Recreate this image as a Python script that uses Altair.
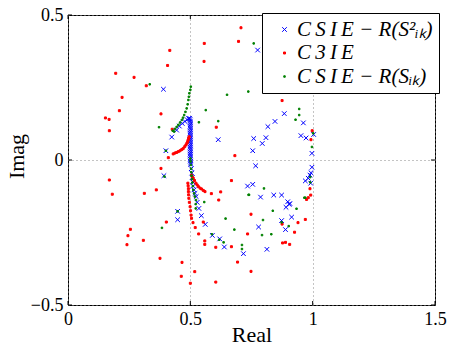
import altair as alt
import pandas as pd

# ---- series values ----
blue_re = [0.390, 0.775, 0.614, 0.759, 0.755, 0.424, 0.400, 0.881, 0.884, 0.962,
           0.846, 0.817, 0.809, 0.794, 0.952, 0.973, 1.004, 0.997, 0.392, 0.448,
           0.448, 0.767, 0.734, 0.755, 0.524, 0.528, 0.535, 0.545, 0.561, 0.590,
           0.620, 0.639, 0.717, 0.779, 0.787, 0.841, 0.873, 0.898, 0.904, 0.891,
           0.914, 0.873, 0.889, 0.813, 0.997, 0.993, 0.989, 0.982, 0.970, 0.992,
           0.907,
           0.444, 0.455, 0.467, 0.478, 0.487, 0.493, 0.497,
           0.499, 0.500, 0.501, 0.500, 0.499, 0.500, 0.501, 0.500, 0.499, 0.500,
           0.501, 0.500, 0.499, 0.500, 0.501, 0.500, 0.499, 0.500, 0.501, 0.500,
           0.499, 0.500, 0.501, 0.500, 0.500, 0.501,
           0.502, 0.504, 0.506, 0.508, 0.510, 0.512, 0.515, 0.519]
blue_im = [0.244, 0.379, 0.070, 0.074, 0.032, 0.079, 0.032, 0.238, 0.160, 0.128,
           0.133, 0.115, 0.077, 0.057, 0.084, 0.076, 0.088, 0.023, -0.054, -0.177,
           -0.206, -0.020, -0.090, -0.084, -0.126, -0.146, -0.167, -0.192, -0.222, -0.260,
           -0.272, -0.300, -0.323, -0.231, -0.128, -0.121, -0.121, -0.144, -0.153, -0.163,
           -0.197, -0.209, -0.240, -0.308, -0.025, -0.044, -0.052, -0.063, -0.072, -0.080,
           -0.150,
           0.103, 0.117, 0.126, 0.133, 0.139, 0.143, 0.144,
           0.140, 0.134, 0.128, 0.122, 0.116, 0.110, 0.104, 0.098, 0.092, 0.086,
           0.080, 0.074, 0.068, 0.062, 0.056, 0.050, 0.044, 0.038, 0.032, 0.026,
           0.020, 0.014, 0.008, 0.002, -0.004, -0.010,
           -0.015, -0.030, -0.045, -0.060, -0.075, -0.090, -0.103, -0.115]

red_re = [0.707, 0.697, 0.557, 0.556, 0.416, 0.407, 0.195, 0.270, 0.320, 0.221,
          0.210, 0.153, 0.168, 0.169, 0.380, 0.426, 0.606, 0.682, 0.410,
          0.893, 0.921, 0.875, 0.998, 0.993,
          0.380, 0.169, 0.181, 0.312, 0.361, 0.668, 0.624, 0.586, 0.616, 0.402,
          0.255, 0.245, 0.241, 0.308, 0.511, 0.520, 0.534, 0.553, 0.559, 0.559,
          0.604, 0.668, 0.734, 0.748, 0.693, 0.748, 0.376, 0.466, 0.463, 0.518,
          0.500, 0.604,
          0.989, 0.992, 0.982, 0.975, 0.940, 0.970, 0.875, 0.926, 0.877, 0.889, 0.906,
          0.430, 0.437, 0.444, 0.451, 0.458, 0.465, 0.471, 0.477, 0.482, 0.486,
          0.489, 0.491, 0.493, 0.495,
          0.505, 0.508, 0.512, 0.517, 0.523, 0.528, 0.533, 0.540, 0.546, 0.553, 0.560,
          0.490, 0.491, 0.492, 0.492, 0.493, 0.494, 0.496, 0.499, 0.501, 0.503, 0.505]
red_im = [0.456, 0.409, 0.402, 0.340, 0.378, 0.326, 0.299, 0.285, 0.256, 0.216,
          0.170, 0.145, 0.140, 0.101, 0.159, 0.106, 0.113, 0.015, 0.008,
          0.246, 0.249, 0.205, 0.101, 0.070,
          -0.029, -0.069, -0.118, -0.115, -0.103, -0.071, -0.110, -0.116, -0.138, -0.214,
          -0.239, -0.261, -0.292, -0.277, -0.216, -0.233, -0.255, -0.214, -0.279, -0.291,
          -0.301, -0.299, -0.255, -0.187, -0.352, -0.384, -0.339, -0.353, -0.401, -0.385,
          -0.425, -0.421,
          -0.099, -0.121, -0.130, -0.136, -0.216, -0.205, -0.221, -0.249, -0.286, -0.284, -0.291,
          0.021, 0.024, 0.026, 0.029, 0.032, 0.036, 0.040, 0.046, 0.052, 0.058,
          0.063, 0.069, 0.075, 0.080,
          -0.052, -0.058, -0.063, -0.071, -0.080, -0.086, -0.092, -0.097, -0.100, -0.105, -0.109,
          -0.080, -0.089, -0.099, -0.109, -0.120, -0.132, -0.146, -0.161, -0.175, -0.190, -0.201]

green_re = [0.334, 0.759, 0.737, 0.650, 0.563, 0.614, 0.535, 0.372, 0.434,
            0.945, 0.945, 0.930, 0.997, 1.002,
            0.394, 0.384, 0.557, 0.644, 0.680, 0.636, 0.711, 0.711, 0.740, 0.588,
            0.801, 0.738, 0.837, 0.797, 0.793, 0.831, 0.902, 0.934, 0.966, 0.970,
            0.873, 0.990, 0.990, 0.400, 0.618, 0.448,
            0.502, 0.500, 0.496, 0.494, 0.492, 0.489, 0.485, 0.480, 0.475, 0.470,
            0.465, 0.458, 0.451, 0.444, 0.437, 0.428,
            0.500, 0.501, 0.502, 0.503, 0.504, 0.505, 0.507, 0.508, 0.510, 0.512,
            0.515, 0.518, 0.523, 0.522, 0.522]
green_im = [0.261, 0.402, 0.236, 0.225, 0.172, 0.134, 0.130, 0.113, 0.098,
            0.176, 0.155, 0.139, 0.045, 0.092,
            -0.057, -0.234, -0.145, -0.202, -0.240, -0.284, -0.293, -0.307, -0.120, -0.256,
            -0.098, -0.120, -0.175, -0.207, -0.259, -0.256, -0.228, -0.168, -0.130, -0.130,
            -0.215, -0.059, -0.077, 0.032, -0.275, -0.177,
            0.253, 0.242, 0.230, 0.218, 0.207, 0.192, 0.178, 0.166, 0.155, 0.146,
            0.138, 0.129, 0.121, 0.114, 0.107, 0.101,
            0.005, -0.005, -0.017, -0.030, -0.042, -0.054, -0.066, -0.078, -0.090, -0.103,
            -0.115, -0.126, -0.138, -0.152, -0.167]

series_names = ["C\u2009S\u2009I\u2009E \u2212 R(S\u00b2\u1d62\u2096)",
                "C\u20093\u2009I\u2009E",
                "C\u2009S\u2009I\u2009E \u2212 R(S\u1d62\u2096)"]
series_colors = ["#0000ff", "#ff0000", "#008000"]

x_ticks = [0, 0.5, 1, 1.5]
y_ticks = [-0.5, 0, 0.5]

# ---- table ----
rows = []
for name, xs, ys in zip(series_names, [blue_re, red_re, green_re], [blue_im, red_im, green_im]):
    for a, b in zip(xs, ys):
        rows.append({"re": a, "im": b, "s": name})
df = pd.DataFrame(rows)
df["ord"] = range(len(df))

xscale = alt.Scale(domain=[0, 1.5], nice=False, zero=False)
yscale = alt.Scale(domain=[-0.5, 0.5], nice=False, zero=False)

xaxis = alt.Axis(values=x_ticks, format="~g", title="Real", grid=True, ticks=False,
                 domain=False, labelFlush=False, labelPadding=5,
                 titleY=36, titleBaseline="alphabetic")
yaxis = alt.Axis(values=y_ticks, format="~g", title="Imag", grid=True, ticks=False,
                 domain=False, labelFlush=False, labelPadding=5,
                 titleX=-45, titleY=141, titleBaseline="alphabetic", titleAlign="center")

# marker shapes drawn at size 4 (path units = pixels)
xpath = "M-2.3,-2.3L2.3,2.3M-2.3,2.3L2.3,-2.3"
sq_red = "M-1,-1L1,-1L1,1L-1,1Z"
sq_green = "M-0.75,-0.75L0.75,-0.75L0.75,0.75L-0.75,0.75Z"

cscale = alt.Scale(domain=series_names, range=series_colors)
leg = alt.Legend(title=None,
                 labelExpr="datum.label + '\u00a0\u00a0\u00a0\u00a0\u00a0\u00a0\u00a0'")

points = alt.Chart(df).mark_point(filled=True, strokeWidth=1, opacity=1, size=4).encode(
    x=alt.X("re:Q", scale=xscale, axis=xaxis),
    y=alt.Y("im:Q", scale=yscale, axis=yaxis),
    fill=alt.Fill("s:N", scale=cscale, legend=leg),
    stroke=alt.Stroke("s:N", scale=cscale, legend=leg),
    shape=alt.Shape("s:N", scale=alt.Scale(domain=series_names, range=[xpath, sq_red, sq_green]),
                    legend=leg),
    order=alt.Order("ord:Q"),
)

tx = pd.DataFrame({"re": x_ticks})
ty = pd.DataFrame({"im": y_ticks})
tick_b = alt.Chart(tx).mark_rule(color="black", strokeWidth=1).encode(
    x=alt.X("re:Q", scale=xscale, axis=xaxis), y=alt.value(290), y2=alt.value(286))
tick_t = alt.Chart(tx).mark_rule(color="black", strokeWidth=1).encode(
    x=alt.X("re:Q", scale=xscale, axis=xaxis), y=alt.value(0), y2=alt.value(4))
tick_l = alt.Chart(ty).mark_rule(color="black", strokeWidth=1).encode(
    y=alt.Y("im:Q", scale=yscale, axis=yaxis), x=alt.value(0), x2=alt.value(4))
tick_r = alt.Chart(ty).mark_rule(color="black", strokeWidth=1).encode(
    y=alt.Y("im:Q", scale=yscale, axis=yaxis), x=alt.value(367), x2=alt.value(363))

chart = alt.layer(tick_b, tick_t, tick_l, tick_r, points).properties(
    width=367, height=290,
    autosize=alt.AutoSizeParams(type="none"),
    padding={"left": 68, "top": 15, "right": 29, "bottom": 40},
    background="white",
).configure_view(
    stroke="black", strokeWidth=1
).configure_axis(
    labelFont="Liberation Serif", labelFontSize=18, labelColor="black",
    titleFont="Liberation Serif", titleFontSize=22, titleColor="black", titleFontWeight="normal",
    gridColor="#888888", gridDash=[1, 3], gridWidth=1,
).configure_legend(
    orient="none", legendX=194, legendY=-2, padding=6,
    strokeColor="black", fillColor="white", cornerRadius=0,
    labelFont="Liberation Serif", labelFontStyle="italic", labelFontSize=21, labelColor="black",
    labelLimit=400, labelOffset=2, symbolOffset=6, rowPadding=1.5,
    symbolSize=4, symbolStrokeWidth=1,
)

chart.save("out.html", embed_options={"renderer": "svg", "actions": False})
